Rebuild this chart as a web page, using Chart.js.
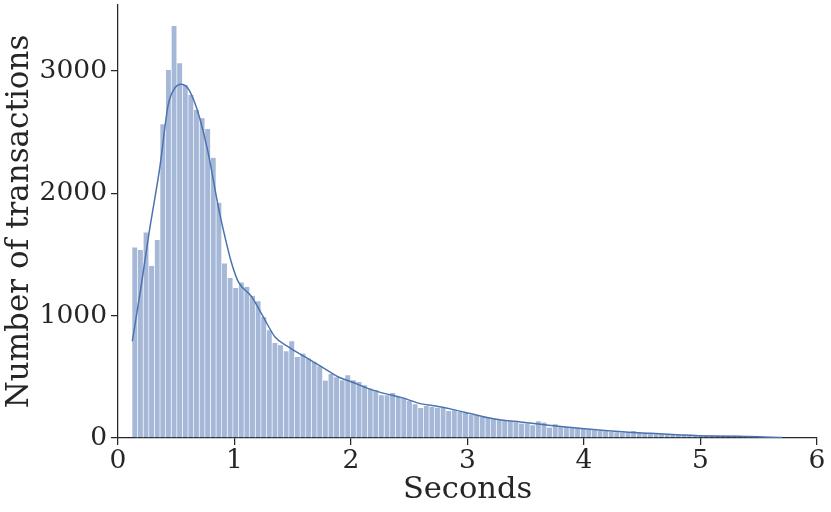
<!DOCTYPE html>
<html lang="en">
<head>
    <meta charset="UTF-8" />
    <title>Seconds histogram</title>
    <script src="https://cdn.jsdelivr.net/npm/chart.js"></script>
    <style>
        html, body { margin: 0; padding: 0; background: #fff; }
        canvas { display: block; }
    </style>
</head>
<body>
<canvas id="canvas1" width="831" height="512"></canvas>

<script>
    // bins: first edge and width (seconds), counts
    const binStart = 0.1229;
    const binWidth = 0.04811;
    const binCounts = [
        1558, 1536, 1681, 1408, 1618, 2565, 3009, 3369, 3064, 2886,
        2804, 2682, 2614, 2526, 2291, 1923, 1427, 1309, 1227, 1272,
        1236, 1162, 1118, 990, 881, 777, 759, 710, 791, 663,
        690, 650, 622, 587, 470, 524, 497, 472, 513, 472,
        458, 431, 404, 390, 349, 349, 368, 335, 330, 303,
        276, 245, 262, 254, 248, 245, 221, 227, 213, 205,
        191, 186, 172, 172, 159, 150, 145, 137, 128, 118,
        118, 104, 137, 126, 85, 112, 98, 90, 85, 82,
        77, 71, 63, 57, 55, 49, 47, 44, 45, 58,
        44, 40, 36, 34, 32, 30, 28, 27, 26, 25,
        24, 23, 22, 22, 21, 21, 20, 20, 16, 15,
        14, 13, 12, 10, 8, 6
    ];

    // density curve (scaled to counts)
    const kdeX = [0.123, 0.20, 0.266, 0.36, 0.43, 0.48, 0.54, 0.60, 0.65, 0.70,
        0.775, 0.861, 0.918, 0.976, 1.033, 1.148, 1.247, 1.348, 1.462, 1.606,
        1.749, 1.892, 2.007, 2.15, 2.293, 2.436, 2.594, 2.737, 2.88, 3.023,
        3.167, 3.309, 3.453, 3.696, 3.981, 4.355, 4.57, 4.83, 5.085, 5.33,
        5.61, 5.70];
    const kdeY = [791, 1250, 1673, 2218, 2720, 2850, 2892, 2860, 2763, 2620,
        2327, 1890, 1645, 1427, 1277, 1154, 990, 826, 745, 663,
        581, 499, 458, 404, 363, 330, 281, 259, 232, 200,
        167, 145, 131, 104, 77, 49, 38, 25, 16, 14,
        6, 4];

    const xTicks = [0, 1, 2, 3, 4, 5, 6];
    const yTicks = [0, 1000, 2000, 3000];

    const ink = '#262626';
    const blue = '#4c72b0';

    const bars = binCounts.map((c, i) => ({ x: binStart + (i + 0.5) * binWidth, y: c }));
    const kde = kdeX.map((x, i) => ({ x: x, y: kdeY[i] }));

    Chart.defaults.font.family = '"DejaVu Serif", serif';
    Chart.defaults.color = ink;

    const ctx = document.getElementById('canvas1').getContext('2d');
    new Chart(ctx, {
        type: 'bar',
        data: {
            datasets: [
                {
                    type: 'line',
                    data: kde,
                    borderColor: blue,
                    borderWidth: 1.5,
                    pointRadius: 0,
                    cubicInterpolationMode: 'monotone',
                    order: 0
                },
                {
                    type: 'bar',
                    data: bars,
                    backgroundColor: 'rgba(76, 114, 176, 0.5)',
                    borderColor: 'rgba(255, 255, 255, 0.75)',
                    borderWidth: { right: 1 },
                    borderSkipped: false,
                    barPercentage: 1,
                    categoryPercentage: 1,
                    order: 1
                }
            ]
        },
        options: {
            responsive: false,
            animation: false,
            devicePixelRatio: 1,
            layout: { padding: { top: 5, right: 14, left: 0, bottom: 0 } },
            plugins: {
                legend: { display: false },
                tooltip: { enabled: false }
            },
            scales: {
                x: {
                    type: 'linear',
                    min: 0,
                    max: 6,
                    offset: false,
                    afterBuildTicks: s => { s.ticks = xTicks.map(v => ({ value: v })); },
                    afterFit: s => { s.height = 74; },
                    grid: { display: true, offset: false, drawOnChartArea: false, drawTicks: true, tickLength: 7, color: ink, lineWidth: 1.25 },
                    border: { display: true, color: ink, width: 1.25 },
                    ticks: { font: { size: 26.5 }, padding: 0, maxRotation: 0, callback: v => String(v) },
                    title: { display: true, text: 'Seconds', font: { size: 30.5 }, padding: { top: 0, bottom: 4 } }
                },
                y: {
                    min: 0,
                    max: 3540,
                    afterBuildTicks: s => { s.ticks = yTicks.map(v => ({ value: v })); },
                    afterFit: s => { s.width = 118; s.paddingTop = 0; s.paddingBottom = 0; },
                    grid: { display: true, drawOnChartArea: false, drawTicks: true, tickLength: 7, color: ink, lineWidth: 1.25 },
                    border: { display: true, color: ink, width: 1.25 },
                    ticks: { font: { size: 26.5 }, padding: 4, callback: v => String(v) },
                    title: { display: true, text: 'Number of transactions', font: { size: 31 }, padding: { top: 1, bottom: 0 } }
                }
            }
        }
    });
</script>
</body>
</html>
